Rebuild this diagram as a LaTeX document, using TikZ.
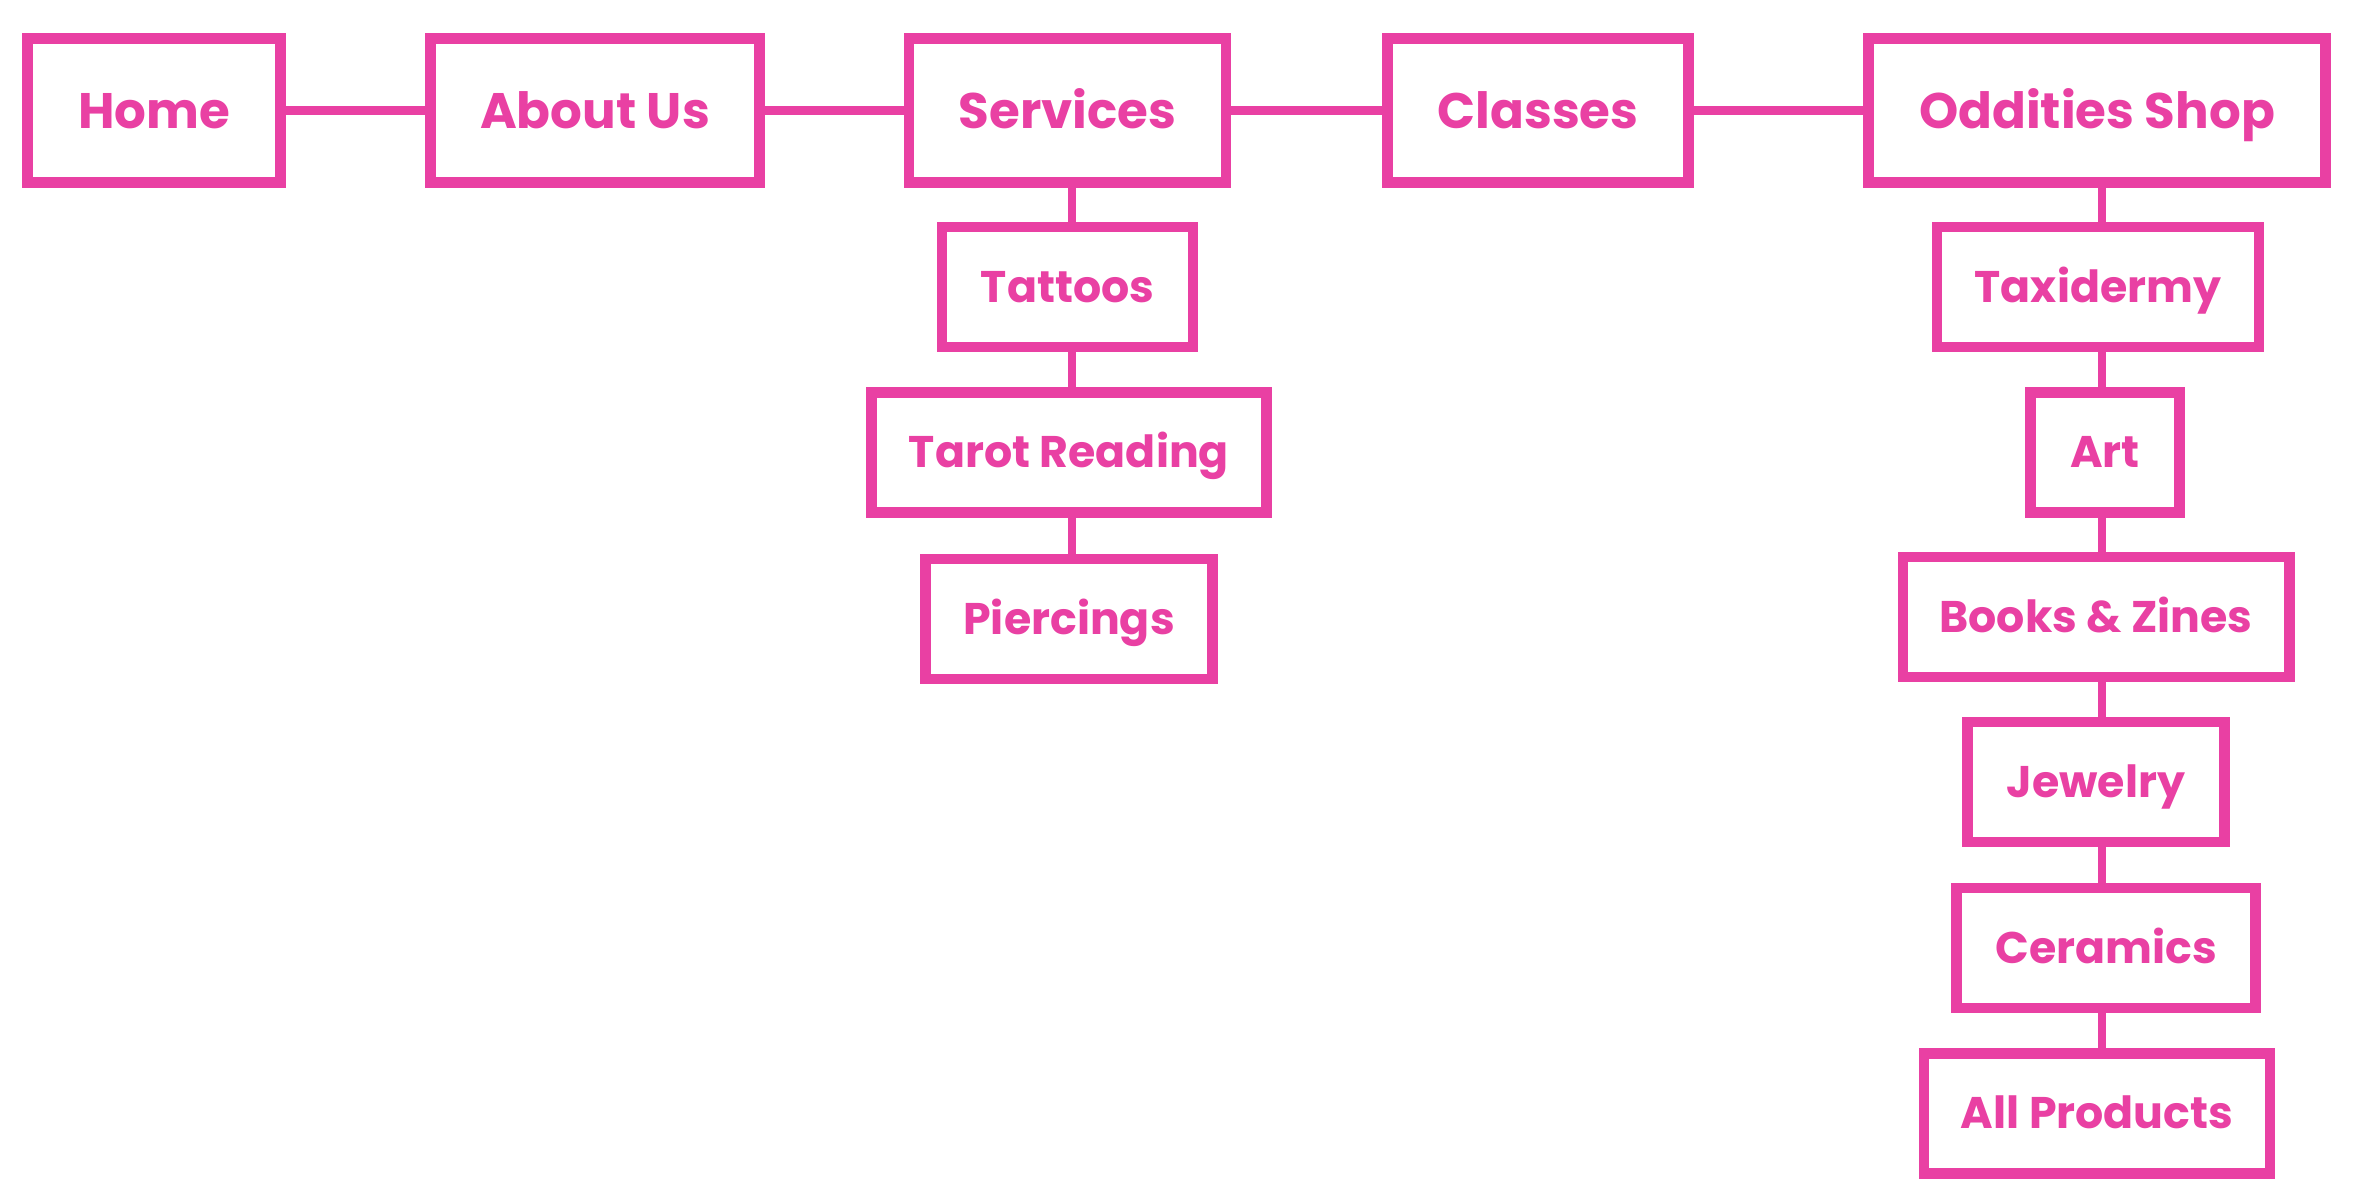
\documentclass[tikz,border=0pt]{standalone}
\usepackage{fontspec}
\newfontfamily\popfont{Poppins}
\definecolor{hot}{RGB}{233,64,163}
\begin{document}
\begin{tikzpicture}[
  box/.style={draw=hot, line width=3pt, inner sep=0pt, text=hot,
    text height=9.9pt, text depth=0pt,
    font=\popfont\bfseries\fontsize{14.2pt}{16pt}\selectfont},
  topbox/.style={box, minimum height=1.44cm},
  subbox/.style={box, minimum height=1.2cm, text height=8.8pt,
    font=\popfont\bfseries\fontsize{12.6pt}{15pt}\selectfont},
  link/.style={draw=hot, line width=2.5pt}
]
\useasboundingbox[fill=white] (0,0) rectangle (23.61,-12);
% top row
\node[topbox, minimum width=2.53cm] (home) at (1.54,-1.107) {Home};
\node[topbox, minimum width=3.29cm] (about) at (5.95,-1.107) {About Us};
\node[topbox, minimum width=3.17cm] (serv) at (10.675,-1.107) {Services};
\node[topbox, minimum width=3.01cm] (class) at (15.38,-1.107) {Classes};
\node[topbox, minimum width=4.57cm] (odd) at (20.97,-1.107) {Oddities Shop};
% services children
\node[subbox, minimum width=2.51cm] (tat) at (10.675,-2.87) {Tattoos};
\node[subbox, minimum width=3.955cm] (tarot) at (10.69,-4.525) {Tarot Reading};
\node[subbox, minimum width=2.87cm] (pier) at (10.69,-6.19) {Piercings};
% oddities children
\node[subbox, minimum width=3.22cm] (taxi) at (20.98,-2.87) {Taxidermy};
\node[subbox, minimum width=1.49cm] (art) at (21.05,-4.525) {Art};
\node[subbox, minimum width=3.865cm] (books) at (20.96,-6.17) {Books \& Zines};
\node[subbox, minimum width=2.57cm] (jew) at (20.96,-7.82) {Jewelry};
\node[subbox, minimum width=2.99cm] (cer) at (21.06,-9.48) {Ceramics};
\node[subbox, minimum width=3.46cm] (all) at (20.97,-11.135) {All Products};
% spines
\coordinate (sA) at (10.72,0);
\coordinate (sB) at (21.02,0);
% horizontal links
\draw[link] (home.east) -- (about.west);
\draw[link] (about.east) -- (serv.west);
\draw[link] (serv.east) -- (class.west);
\draw[link] (class.east) -- (odd.west);
% vertical links
\draw[link] (serv.south -| sA) -- (tat.north -| sA);
\draw[link] (tat.south -| sA) -- (tarot.north -| sA);
\draw[link] (tarot.south -| sA) -- (pier.north -| sA);
\draw[link] (odd.south -| sB) -- (taxi.north -| sB);
\draw[link] (taxi.south -| sB) -- (art.north -| sB);
\draw[link] (art.south -| sB) -- (books.north -| sB);
\draw[link] (books.south -| sB) -- (jew.north -| sB);
\draw[link] (jew.south -| sB) -- (cer.north -| sB);
\draw[link] (cer.south -| sB) -- (all.north -| sB);
\end{tikzpicture}
\end{document}
